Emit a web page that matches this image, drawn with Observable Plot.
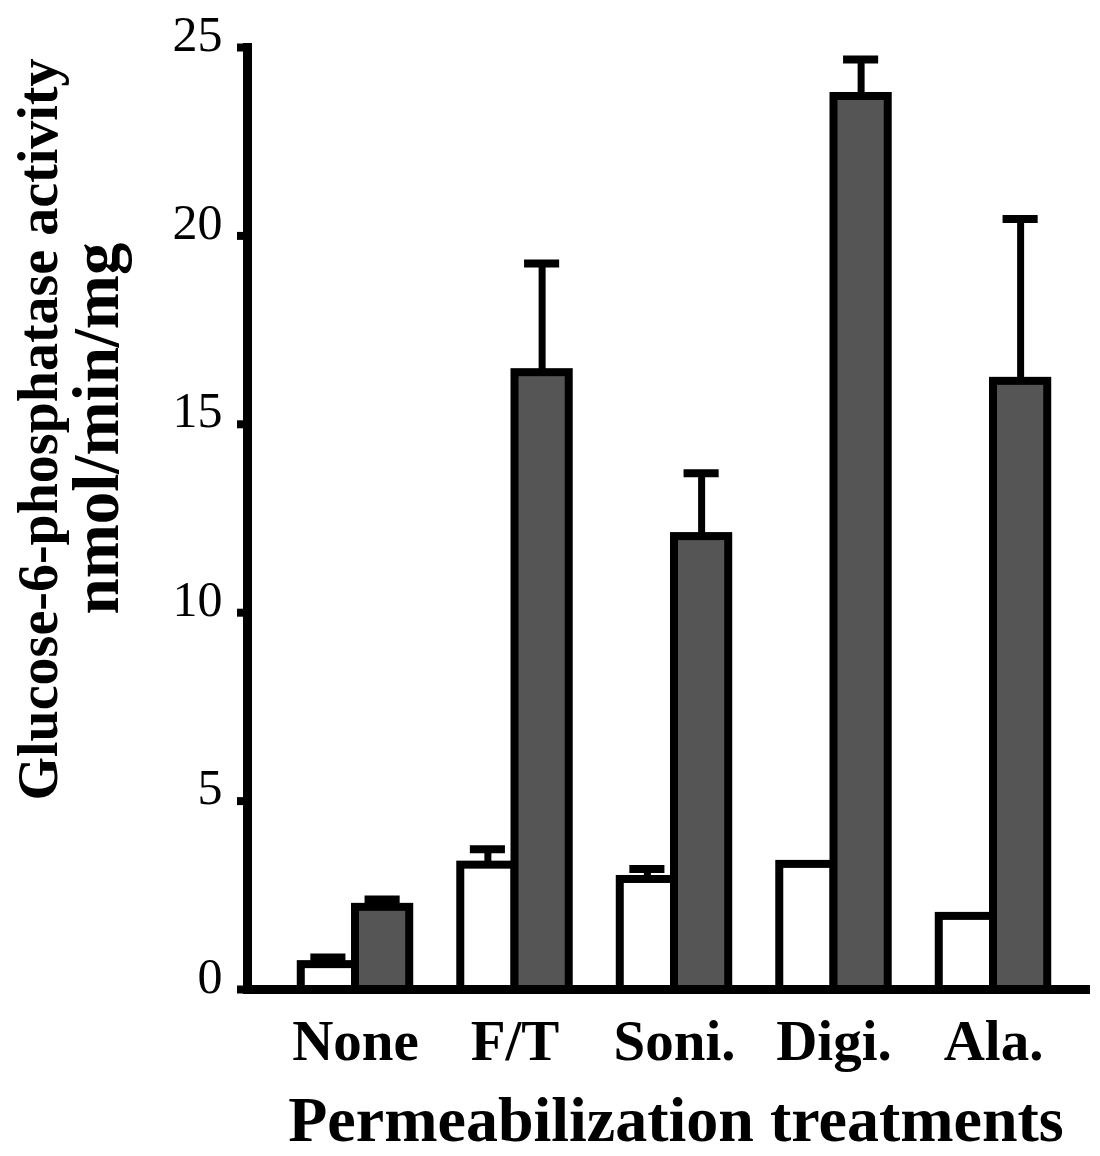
<!DOCTYPE html>
<html><head><meta charset="utf-8">
<script src="https://cdn.jsdelivr.net/npm/d3@7"></script>
<script src="https://cdn.jsdelivr.net/npm/@observablehq/plot@0.6"></script>
<style>html,body{margin:0;padding:0;background:#fff}</style>
</head><body><div id="chart"></div>
<script>
const categories = ["None", "F/T", "Soni.", "Digi.", "Ala."];
const openValues = [0.66, 3.3, 2.92, 3.32, 1.94];
const openErrors = [0.19, 0.42, 0.28, 0, 0];
const filledValues = [2.18, 16.37, 12.02, 23.7, 16.14];
const filledErrors = [0.21, 2.9, 1.68, 0.98, 4.31];
const yTicks = [0, 5, 10, 15, 20, 25];
const yTitle = ["Glucose-6-phosphatase activity", "nmol/min/mg"];
const xTitle = "Permeabilization treatments";

const barW = 0.34;   // bar width in group units
const capW = 0.11;   // half width of error caps

const rows = [];
categories.forEach((c, i) => {
  rows.push({cat: c, i, s: 0, value: openValues[i], err: openErrors[i]});
  rows.push({cat: c, i, s: 1, value: filledValues[i], err: filledErrors[i]});
});
const openRows = rows.filter(d => d.s === 0);
const filledRows = rows.filter(d => d.s === 1);
const errRows = rows.filter(d => d.err > 0);
const center = d => d.i + (d.s - 0.5) * barW;

const chart = Plot.plot({
  width: 1100,
  height: 1156,
  marginLeft: 247,
  marginRight: 10,
  marginTop: 47,
  marginBottom: 167,
  style: {fontFamily: "'Liberation Serif', 'Times New Roman', serif", background: "#fff", color: "#000"},
  x: {domain: [0, 4], range: [355, 993]},
  y: {domain: [0, 25]},
  marks: [
    Plot.axisY({ticks: yTicks, tickSize: 10, strokeWidth: 8, fill: "none", label: null}),
    Plot.axisY({ticks: yTicks, tickSize: 10, tickPadding: 15, stroke: "none", tickFormat: d => String(d), fontSize: 50, dy: -13, label: null}),
    Plot.axisX({ticks: [0, 1, 2, 3, 4], tickFormat: i => categories[i], tickSize: 0, tickPadding: 30, fontSize: 57, fontWeight: "bold", label: null}),
    Plot.rectY(openRows, {x1: d => d.i - barW, x2: d => d.i, y1: 0, y2: "value", fill: "#fff", stroke: "#000", strokeWidth: 8}),
    Plot.rectY(filledRows, {x1: d => d.i, x2: d => d.i + barW, y1: 0, y2: "value", fill: "#555", stroke: "#000", strokeWidth: 8}),
    Plot.ruleX(errRows, {x: center, y1: "value", y2: d => d.value + d.err, stroke: "#000", strokeWidth: 7}),
    Plot.ruleY(errRows, {y: d => d.value + d.err, x1: d => center(d) - capW, x2: d => center(d) + capW, stroke: "#000", strokeWidth: 8}),
    Plot.ruleY([0], {stroke: "#000", strokeWidth: 9}),
    Plot.frame({anchor: "left", stroke: "#000", strokeWidth: 9}),
    Plot.text([xTitle], {text: d => d, frameAnchor: "bottom", lineAnchor: "bottom", dx: 7, dy: 151, fontSize: 64, fontWeight: "bold"}),
    Plot.text([yTitle[0]], {text: d => d, frameAnchor: "left", lineAnchor: "middle", rotate: -90, dx: -208, dy: -89, fontSize: 56, fontWeight: "bold", textAnchor: "middle"}),
    Plot.text([yTitle[1]], {text: d => d, frameAnchor: "left", lineAnchor: "middle", rotate: -90, dx: -150, dy: -90, fontSize: 65, fontWeight: "bold", textAnchor: "middle"})
  ]
});
document.getElementById("chart").appendChild(chart);
</script>
</body></html>
